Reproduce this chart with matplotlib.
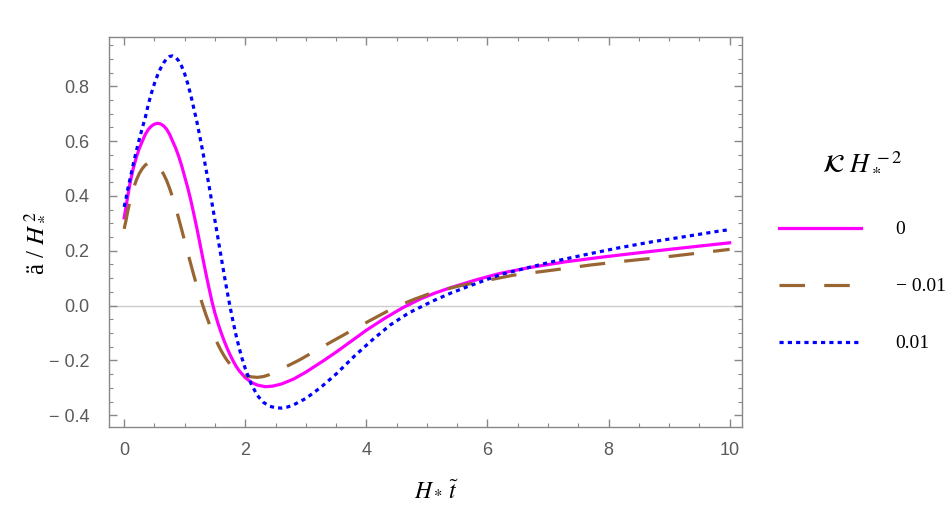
import numpy as np
import matplotlib
matplotlib.use("Agg")
import matplotlib.pyplot as plt
from matplotlib.ticker import MultipleLocator, FuncFormatter

plt.rcParams['mathtext.fontset'] = 'stix'

# curve values, K H*^-2 = 0
x_k0 = [0, 0.03, 0.06, 0.1, 0.15, 0.2, 0.25, 0.3, 0.35, 0.4, 0.45, 0.5, 0.55,
        0.6, 0.65, 0.7, 0.75, 0.8, 0.85, 0.9, 0.95, 1.0, 1.05, 1.1, 1.15, 1.2,
        1.25, 1.3, 1.35, 1.4, 1.45, 1.5, 1.55, 1.6, 1.65, 1.7, 1.75, 1.8, 1.85,
        1.9, 2.0, 2.1, 2.2, 2.33, 2.45, 2.6, 2.8, 3.0, 3.3, 3.5, 3.7, 4.0, 4.3,
        4.6, 4.9, 5.15, 5.4, 5.8, 6.2, 6.7, 7.3, 7.9, 8.4, 9.0, 9.5, 10]
y_k0 = [0.32, 0.36, 0.40, 0.45, 0.50, 0.54, 0.573, 0.60, 0.625, 0.643, 0.655,
        0.662, 0.665, 0.663, 0.656, 0.644, 0.625, 0.60, 0.575, 0.545, 0.51,
        0.47, 0.43, 0.385, 0.335, 0.283, 0.228, 0.172, 0.117, 0.065, 0.015,
        -0.028, -0.065, -0.098, -0.128, -0.155, -0.18, -0.202, -0.222, -0.238,
        -0.263, -0.28, -0.29, -0.296, -0.294, -0.286, -0.268, -0.243, -0.20,
        -0.17, -0.138, -0.09, -0.047, -0.008, 0.025, 0.047, 0.066, 0.093,
        0.117, 0.139, 0.160, 0.177, 0.19, 0.205, 0.217, 0.229]

# K H*^-2 = -0.01
x_km = [0, 0.03, 0.06, 0.1, 0.15, 0.2, 0.25, 0.3, 0.35, 0.4, 0.45, 0.5, 0.55,
        0.6, 0.65, 0.7, 0.75, 0.8, 0.85, 0.9, 0.95, 1.0, 1.05, 1.1, 1.15, 1.2,
        1.25, 1.3, 1.35, 1.4, 1.45, 1.5, 1.55, 1.6, 1.65, 1.7, 1.75, 1.8, 1.9,
        2.0, 2.1, 2.2, 2.3, 2.4, 2.56, 2.7, 2.89, 3.2, 3.44, 3.7, 3.99, 4.2,
        4.48, 4.78, 5.0, 5.22, 5.5, 5.88, 6.43, 7.1, 7.7, 8.3, 8.96, 9.5, 10]
y_km = [0.28, 0.31, 0.345, 0.385, 0.425, 0.457, 0.482, 0.50, 0.513, 0.52,
        0.522, 0.519, 0.512, 0.498, 0.48, 0.457, 0.428, 0.395, 0.358, 0.318,
        0.277, 0.235, 0.193, 0.152, 0.111, 0.072, 0.035, 0.0, -0.033, -0.063,
        -0.092, -0.118, -0.142, -0.164, -0.183, -0.2, -0.214, -0.226, -0.244,
        -0.255, -0.26, -0.262, -0.259, -0.252, -0.236, -0.22, -0.199, -0.16,
        -0.13, -0.098, -0.063, -0.038, -0.005, 0.022, 0.04, 0.054, 0.07, 0.087,
        0.111, 0.13, 0.148, 0.163, 0.178, 0.192, 0.205]

# K H*^-2 = 0.01
x_kp = [0, 0.03, 0.06, 0.1, 0.15, 0.2, 0.25, 0.3, 0.35, 0.4, 0.45, 0.5, 0.55,
        0.6, 0.65, 0.7, 0.75, 0.8, 0.85, 0.9, 0.95, 1.0, 1.05, 1.1, 1.15, 1.2,
        1.25, 1.3, 1.35, 1.4, 1.45, 1.5, 1.55, 1.6, 1.65, 1.7, 1.75, 1.8, 1.85,
        1.9, 1.95, 2.0, 2.1, 2.2, 2.3, 2.4, 2.5, 2.6, 2.7, 2.8, 3.0, 3.25, 3.5,
        3.8, 4.1, 4.4, 4.7, 5.1, 5.4, 5.66, 6.21, 7.03, 7.6, 8.13, 8.7, 9.3,
        9.86, 10]
y_kp = [0.36, 0.39, 0.425, 0.465, 0.515, 0.563, 0.607, 0.648, 0.687, 0.735,
        0.775, 0.81, 0.84, 0.865, 0.885, 0.9, 0.909, 0.911, 0.906, 0.893, 0.873,
        0.845, 0.81, 0.768, 0.72, 0.672, 0.617, 0.56, 0.50, 0.44, 0.375, 0.31,
        0.245, 0.18, 0.115, 0.053, -0.005, -0.06, -0.11, -0.155, -0.195, -0.23,
        -0.287, -0.328, -0.353, -0.367, -0.373, -0.374, -0.37, -0.362, -0.339,
        -0.298, -0.25, -0.185, -0.125, -0.07, -0.027, 0.017, 0.046, 0.068,
        0.113, 0.158, 0.185, 0.209, 0.232, 0.253, 0.273, 0.277]

labels = ['0', '\u2212 0.01', '0.01']

fig = plt.figure(figsize=(9.53, 5.23), dpi=100)
ax = fig.add_axes([0.1144, 0.1841, 0.6639, 0.7457])

ax.axhline(0, color='#cccccc', lw=1, zorder=1)
ax.plot(x_k0, y_k0, color='#ff00ff', lw=2.3, label=labels[0], zorder=3)
ax.plot(x_km, y_km, color='#996633', lw=2.3, dashes=(8, 6), label=labels[1], zorder=3)
ax.plot(x_kp, y_kp, color='#0000ff', lw=2.3, dashes=(1.3, 1.3), label=labels[2], zorder=3)

ax.set_xlim(-0.25, 10.2)
ax.set_ylim(-0.442, 0.981)

ax.xaxis.set_major_locator(MultipleLocator(2))
ax.xaxis.set_minor_locator(MultipleLocator(0.5))
ax.yaxis.set_major_locator(MultipleLocator(0.2))
ax.yaxis.set_minor_locator(MultipleLocator(0.05))
ax.xaxis.set_major_formatter(FuncFormatter(lambda v, p: '%d' % round(v)))
ax.yaxis.set_major_formatter(FuncFormatter(
    lambda v, p: ('\u2212 %.1f' % abs(v)) if v < -1e-9 else '%.1f' % abs(v)))

frame_col = '#888888'
for s in ax.spines.values():
    s.set_color(frame_col)
    s.set_linewidth(1.0)
ax.tick_params(which='both', direction='in', top=True, right=True,
               color=frame_col, labelcolor='#5a5a5a', labelsize=13,
               labelfontfamily='Liberation Sans')
ax.tick_params(which='major', length=6, width=1)
ax.tick_params(axis='x', which='major', pad=11)
ax.tick_params(axis='y', which='major', pad=14)
ax.tick_params(which='minor', length=3, width=0.8)

ax.set_xlabel(r'$H_*\,\tilde{t}$', fontsize=17)
ax.set_ylabel(r'ä / $H_*^{\,2}$', fontsize=18, family='Liberation Serif')
ax.xaxis.set_label_coords(0.518, -0.13)
ax.yaxis.set_label_coords(-0.10, 0.47)

leg = ax.legend(loc='upper left', bbox_to_anchor=(0.8174, 0.718),
                bbox_transform=fig.transFigure, frameon=False,
                title=r'$\mathcal{K}\ H_*^{\,-2}$', title_fontsize=19,
                prop={'family': 'Liberation Serif', 'size': 14},
                handlelength=4.2, handletextpad=1.8, labelspacing=2.03,
                borderpad=0, borderaxespad=0)
leg._legend_box.sep = 34

fig.savefig('out.png', dpi=100)
